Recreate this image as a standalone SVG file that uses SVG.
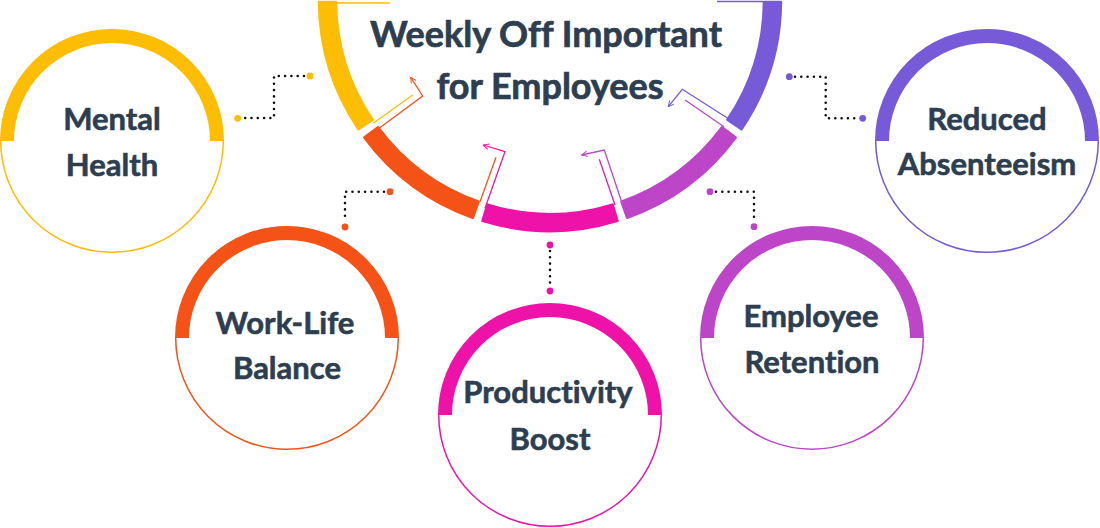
<svg xmlns="http://www.w3.org/2000/svg" width="1100" height="528" viewBox="0 0 1100 528">
<defs>
<style>
.lbl{font-family:Lato,"Liberation Sans",sans-serif;font-weight:700;font-size:31px;fill:#2D3E50;stroke:#2D3E50;stroke-width:0.6;text-anchor:middle;font-variant-ligatures:none}
.title{font-family:Lato,"Liberation Sans",sans-serif;font-weight:700;font-size:36px;fill:#2D3E50;stroke:#2D3E50;stroke-width:0.7;text-anchor:middle;font-variant-ligatures:none}
.band{fill:none;stroke-width:14}
.rim{fill:none;stroke-width:1.5}
.seg{stroke-width:2.5;stroke-linejoin:round}
.thin{fill:none;stroke-width:1.3;stroke-linejoin:miter}
.dots{fill:none;stroke:#111;stroke-width:2.6;stroke-linecap:round;stroke-dasharray:0 6.3}
</style>
<marker id="aO" viewBox="0 0 10 10" refX="9" refY="5" markerWidth="7" markerHeight="7" markerUnits="userSpaceOnUse" orient="auto"><path d="M1,1 L9,5 L1,9" fill="none" stroke="#F4531B" stroke-width="1.4"/></marker>
<marker id="aP" viewBox="0 0 10 10" refX="9" refY="5" markerWidth="7" markerHeight="7" markerUnits="userSpaceOnUse" orient="auto"><path d="M1,1 L9,5 L1,9" fill="none" stroke="#EC14A8" stroke-width="1.4"/></marker>
<marker id="aC" viewBox="0 0 10 10" refX="9" refY="5" markerWidth="7" markerHeight="7" markerUnits="userSpaceOnUse" orient="auto"><path d="M1,1 L9,5 L1,9" fill="none" stroke="#B948C8" stroke-width="1.4"/></marker>
<marker id="aV" viewBox="0 0 10 10" refX="9" refY="5" markerWidth="7" markerHeight="7" markerUnits="userSpaceOnUse" orient="auto"><path d="M1,1 L9,5 L1,9" fill="none" stroke="#7458D8" stroke-width="1.4"/></marker>
</defs>
<rect width="1100" height="528" fill="#FFFFFF"/>

<g id="hub">
<path class="seg" fill="#FDBD02" stroke="#FDBD02" d="M319,2 A231,231 0 0 0 358.5,129.2 L372.6,119.7 A214,214 0 0 1 336,1.9 Z"/>
<path class="seg" fill="#F55218" stroke="#F55218" d="M364.3,137.4 A231,231 0 0 0 472.9,217.7 L478.6,201.7 A214,214 0 0 1 378,127.3 Z"/>
<path class="seg" fill="#EE12A8" stroke="#EE12A8" d="M482.5,220.9 A231,231 0 0 0 617.5,220.9 L612.6,204.6 A214,214 0 0 1 487.4,204.6 Z"/>
<path class="seg" fill="#BC45C8" stroke="#BC45C8" d="M627.1,217.7 A231,231 0 0 0 735.7,137.4 L722,127.3 A214,214 0 0 1 621.4,201.7 Z"/>
<path class="seg" fill="#765AD8" stroke="#765AD8" d="M741.5,129.2 A231,231 0 0 0 781,2 L764,1.9 A214,214 0 0 1 727.4,119.7 Z"/>
<line class="thin" stroke="#FDBD02" x1="333" y1="3" x2="390" y2="3"/>
<line class="thin" stroke="#765AD8" x1="717" y1="1.5" x2="763" y2="1.5"/>
<text class="title" x="546" y="47">Weekly Off Important</text>
<text class="title" x="550" y="99">for Employees</text>
</g>

<g id="connectors">
<line class="thin" stroke="#FDBD02" x1="373.3" y1="123.3" x2="412.7" y2="95"/>
<polyline class="thin" stroke="#F4531B" points="376.7,130 422.7,96 410.7,77.3" marker-end="url(#aO)"/>
<line class="thin" stroke="#F4531B" x1="480" y1="201.7" x2="496" y2="157.3"/>
<polyline class="thin" stroke="#EC14A8" points="485,208.3 505,151.7 483.3,145" marker-end="url(#aP)"/>
<line class="thin" stroke="#E21AB0" x1="615" y1="205" x2="599.3" y2="159.3"/>
<polyline class="thin" stroke="#B948C8" points="623.3,206.7 604.3,150 581.7,155" marker-end="url(#aC)"/>
<line class="thin" stroke="#B948C8" x1="724" y1="126.7" x2="685" y2="100"/>
<polyline class="thin" stroke="#7458D8" points="729.3,119.3 682.3,89.3 668.3,106.7" marker-end="url(#aV)"/>

<path class="dots" d="M304,76 H274 V118 H243"/>
<circle cx="310" cy="76" r="3.4" fill="#FDBD02"/>
<circle cx="237.7" cy="118.3" r="3.4" fill="#FDBD02"/>

<path class="dots" d="M384,191.7 H345 V221"/>
<circle cx="390" cy="191.7" r="3.4" fill="#F55218"/>
<circle cx="345" cy="227" r="3.4" fill="#F55218"/>

<path class="dots" d="M550,251 V285"/>
<circle cx="550" cy="245" r="3.4" fill="#EE12A8"/>
<circle cx="550" cy="291" r="3.4" fill="#EE12A8"/>

<path class="dots" d="M716,191.7 H754 V221"/>
<circle cx="710" cy="191.7" r="3.4" fill="#BC45C8"/>
<circle cx="754" cy="226.7" r="3.4" fill="#BC45C8"/>

<path class="dots" d="M795,76.7 H825.7 V118.3 H857"/>
<circle cx="789.3" cy="76.7" r="3.4" fill="#765AD8"/>
<circle cx="862.7" cy="118.3" r="3.4" fill="#765AD8"/>
</g>

<g id="mental-health">
<path class="band" stroke="#FDBD02" d="M7,141 A105,105 0 0 1 217,141"/>
<path class="rim" stroke="#FDBD02" d="M223.3,141 A111.3,111.3 0 0 1 0.7,141"/>
<text class="lbl" x="112" y="130">Mental</text>
<text class="lbl" x="112" y="176">Health</text>
</g>

<g id="work-life-balance">
<path class="band" stroke="#F55218" d="M182,338 A105,105 0 0 1 392,338"/>
<path class="rim" stroke="#F55218" d="M398.3,338 A111.3,111.3 0 0 1 175.7,338"/>
<text class="lbl" x="285" y="334">Work-Life</text>
<text class="lbl" x="287" y="379">Balance</text>
</g>

<g id="productivity-boost">
<path class="band" stroke="#EE12A8" d="M445,415 A105,105 0 0 1 655,415"/>
<path class="rim" stroke="#EE12A8" d="M661.3,415 A111.3,111.3 0 0 1 438.7,415"/>
<text class="lbl" x="548" y="403">Productivity</text>
<text class="lbl" x="550" y="450">Boost</text>
</g>

<g id="employee-retention">
<path class="band" stroke="#BC45C8" d="M707,338 A105,105 0 0 1 917,338"/>
<path class="rim" stroke="#BC45C8" d="M923.3,338 A111.3,111.3 0 0 1 700.7,338"/>
<text class="lbl" x="811" y="327">Employee</text>
<text class="lbl" x="812" y="373">Retention</text>
</g>

<g id="reduced-absenteeism">
<path class="band" stroke="#765AD8" d="M882,141 A105,105 0 0 1 1092,141"/>
<path class="rim" stroke="#765AD8" d="M1098.3,141 A111.3,111.3 0 0 1 875.7,141"/>
<text class="lbl" x="987" y="130">Reduced</text>
<text class="lbl" x="987" y="175">Absenteeism</text>
</g>
</svg>
